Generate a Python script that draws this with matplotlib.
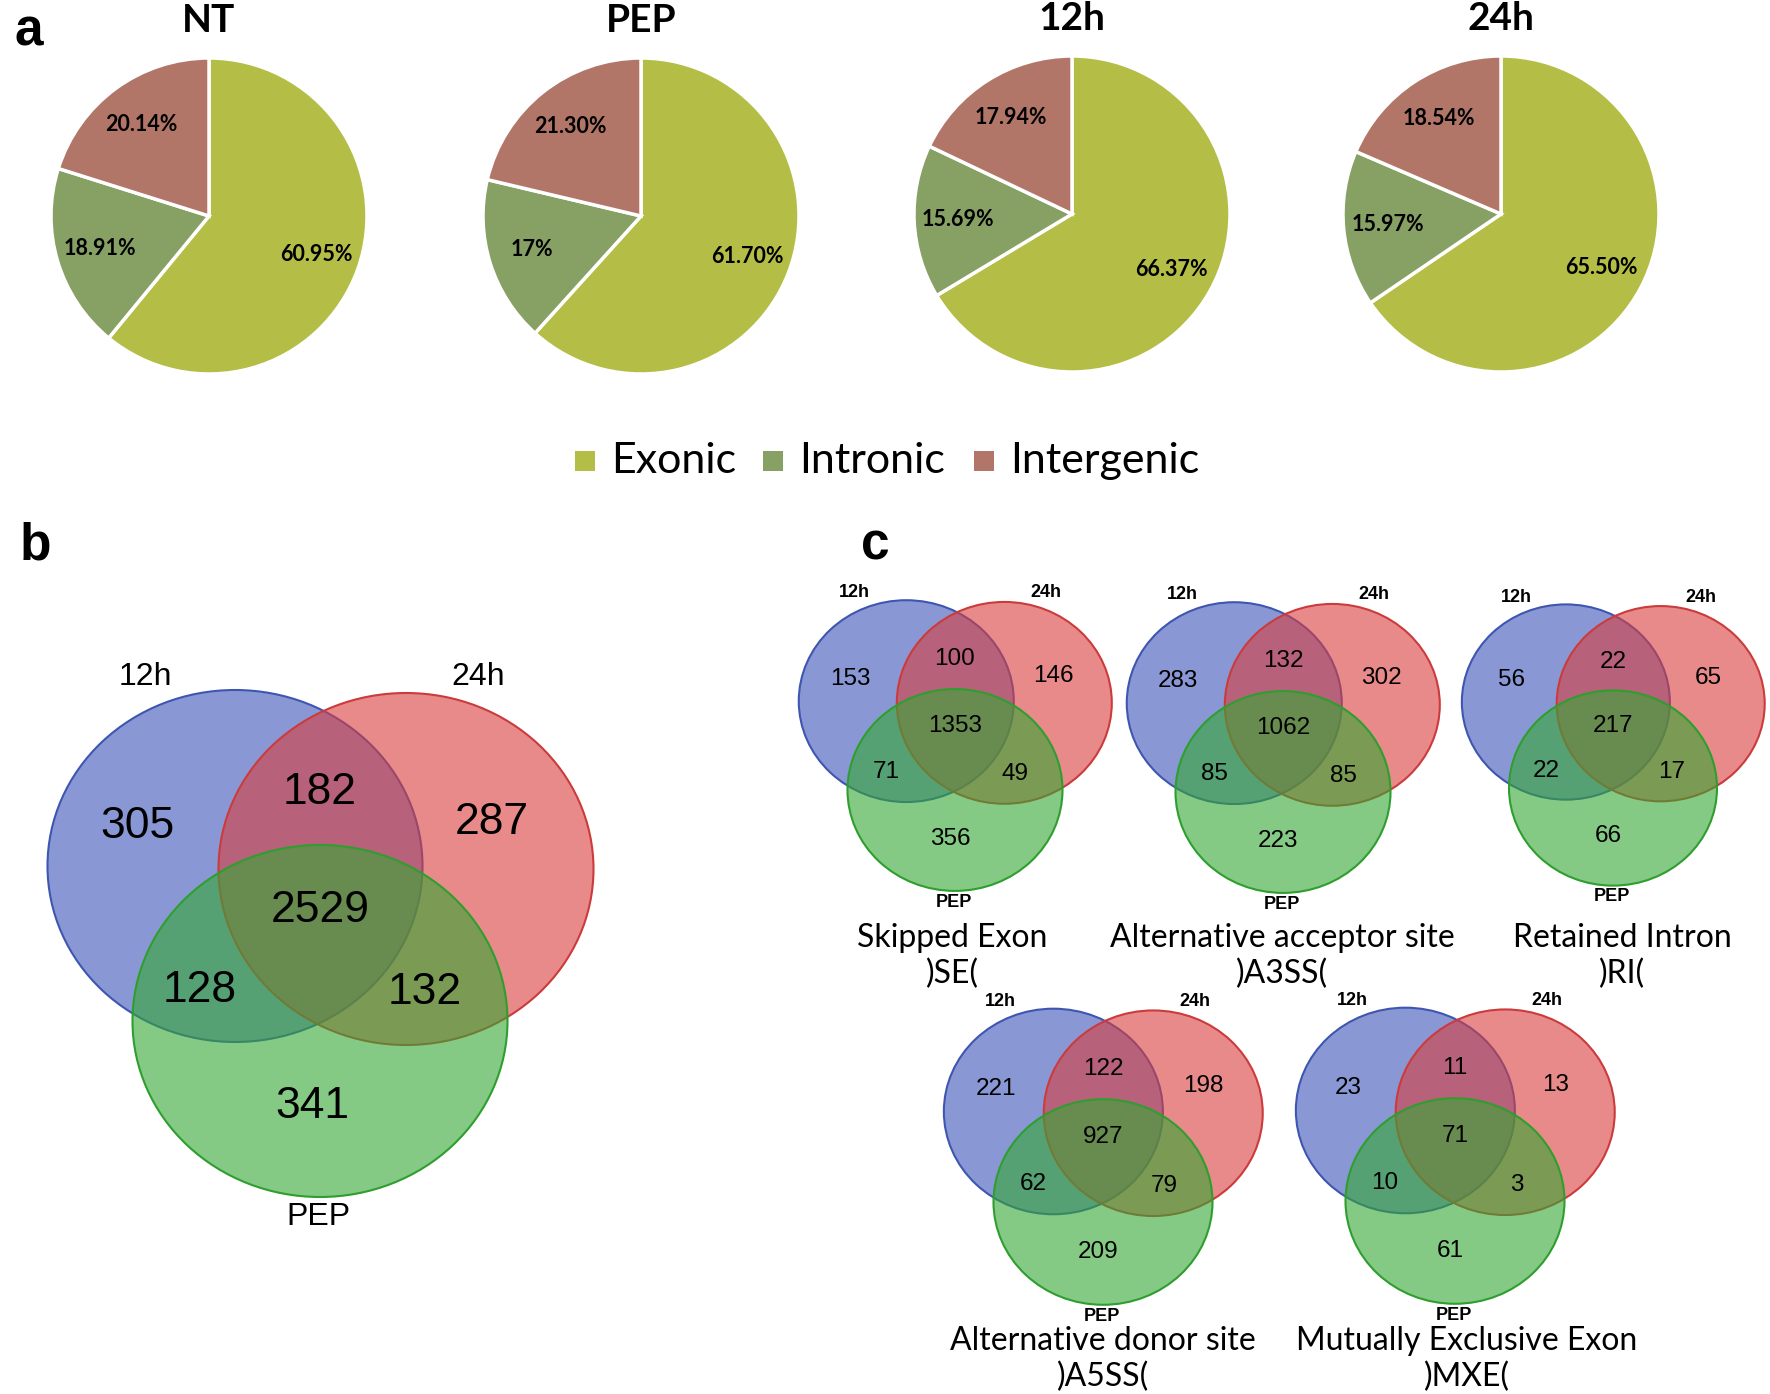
import matplotlib
matplotlib.use('Agg')
import matplotlib.pyplot as plt
from matplotlib.patches import Ellipse, Rectangle
import numpy as np

# ---- data: panel a (genomic distribution, %) ----
pie_titles = ['NT', 'PEP', '12h', '24h']
categories = ['Exonic', 'Intronic', 'Intergenic']
exonic = [60.95, 61.70, 66.37, 65.50]
intronic = [18.91, 17.00, 15.69, 15.97]
intergenic = [20.14, 21.30, 17.94, 18.54]
pct_labels = [['60.95%', '18.91%', '20.14%'],
              ['61.70%', '17%', '21.30%'],
              ['66.37%', '15.69%', '17.94%'],
              ['65.50%', '15.97%', '18.54%']]
pie_colors = ['#B4BE46', '#87A064', '#B27669']

# ---- data: panel b (overlap of all events) ----
# region order: 12h only, 12h&24h, 24h only, all, 12h&PEP, 24h&PEP, PEP only
set_names = ['12h', '24h', 'PEP']
venn_b = [305, 182, 287, 2529, 128, 132, 341]

# ---- data: panel c (per splicing type) ----
as_types = ['Skipped Exon', 'Alternative acceptor site', 'Retained Intron',
            'Alternative donor site', 'Mutually Exclusive Exon']
as_abbrev = [')SE(', ')A3SS(', ')RI(', ')A5SS(', ')MXE(']
se = [153, 100, 146, 1353, 71, 49, 356]
a3ss = [283, 132, 302, 1062, 85, 85, 223]
ri = [56, 22, 65, 217, 22, 17, 66]
a5ss = [221, 122, 198, 927, 62, 79, 209]
mxe = [23, 11, 13, 71, 10, 3, 61]
venn_c = [se, a3ss, ri, a5ss, mxe]

# layout (pixels of a 1770x1394 canvas)
W, H = 1770, 1394
pie_centers = [(209, 216), (641, 216), (1072, 214), (1501, 214)]
pie_r = 158

# venn template, relative to green centre, for ellipse width 375
tpl_ell = [(-85, -155), (86, -152), (0, 0)]
tpl_num = [(-183, -194), (0, -228), (172, -198), (0, -111),
           (-120, -31), (105, -28), (-8, 86)]
tpl_lab = [(-175, -344), (158, -344), (-2, 196)]
ell_w, ell_h = 375, 352
face = [(0.23, 0.33, 0.73, 0.6), (0.85, 0.24, 0.24, 0.6), (0.20, 0.66, 0.20, 0.6)]
edge = ['#3F56B0', '#CC3B3B', '#2E9E2E']

fig = plt.figure(figsize=(W / 100, H / 100), dpi=100)
ax = fig.add_axes([0, 0, 1, 1])

# panel a: pies
for i, (cx, cy) in enumerate(pie_centers):
    vals = [exonic[i], intronic[i], intergenic[i]]
    wedges, _ = ax.pie(vals, colors=pie_colors, center=(cx, cy), radius=pie_r,
                       startangle=-90, counterclock=True,
                       wedgeprops=dict(edgecolor='white', linewidth=2.5))
    for w, lab in zip(wedges, pct_labels[i]):
        mid = np.deg2rad((w.theta1 + w.theta2) / 2)
        ax.text(cx + 0.72 * pie_r * np.cos(mid), cy + 0.72 * pie_r * np.sin(mid), lab,
                ha='center', va='center', fontsize=15.5, fontweight='bold', family='Lato')
    ax.text(cx, cy - 196, pie_titles[i], ha='center', va='center',
            fontsize=28, fontweight='bold', family='Lato')

# legend
leg_x = [585, 773, 984]
for x, c, name in zip(leg_x, pie_colors, categories):
    ax.add_patch(Rectangle((x - 10, 451), 20, 20, facecolor=c, edgecolor='none'))
    ax.text(x + 26, 473, name, ha='left', va='baseline', fontsize=31, family='Lato')


def draw_venn(gx, gy, width, counts, num_fs, lab_fs, lab_weight):
    s = width / ell_w
    for (dx, dy), fc, ec in zip(tpl_ell, face, edge):
        ax.add_patch(Ellipse((gx + dx * s, gy + dy * s), ell_w * s, ell_h * s,
                             facecolor=fc, edgecolor=ec, linewidth=1.5))
    for (dx, dy), n in zip(tpl_num, counts):
        ax.text(gx + dx * s, gy + dy * s, str(n), ha='center', va='center',
                fontsize=num_fs, family='Liberation Sans')
    for (dx, dy), name in zip(tpl_lab, set_names):
        ax.text(gx + dx * s, gy + dy * s, name, ha='center', va='center',
                fontsize=lab_fs, fontweight=lab_weight, family='Liberation Sans')


# panel b
draw_venn(320, 1021, 375, venn_b, 32, 23, 'normal')

# panel c
c_centers = [(955, 790), (1283, 792), (1613, 788), (1103, 1202), (1455, 1201)]
c_widths = [215, 215, 208, 219, 219]
c_titles = [(952, 938), (1282, 938), (1622, 938), (1103, 1341), (1467, 1341)]
for k in range(5):
    gx, gy = c_centers[k]
    draw_venn(gx, gy, c_widths[k], venn_c[k], 17.5, 13, 'bold')
    tx, ty = c_titles[k]
    ax.text(tx, ty, as_types[k], ha='center', va='center', fontsize=23, family='Lato')
    ax.text(tx, ty + 36, as_abbrev[k], ha='center', va='center', fontsize=23, family='Lato')

# panel letters
for x, y, letter in [(15, 45, 'a'), (20, 560, 'b'), (861, 560, 'c')]:
    ax.text(x, y, letter, ha='left', va='baseline', fontsize=37,
            fontweight='bold', family='Liberation Sans')

ax.set_xlim(0, W)
ax.set_ylim(H, 0)
ax.set_aspect('equal')
ax.axis('off')

fig.savefig('out.png', dpi=100, facecolor='white')
